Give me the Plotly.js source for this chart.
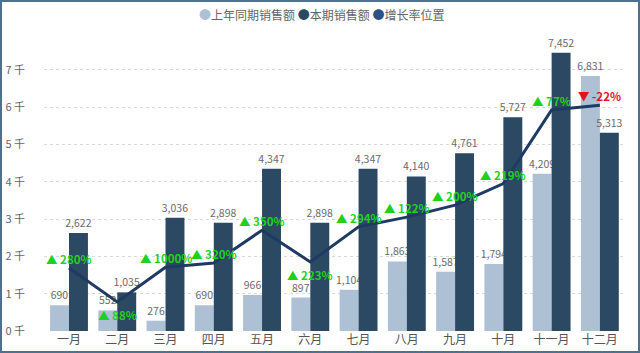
<!DOCTYPE html>
<html>
<head>
<meta charset="utf-8">
<script src="https://cdn.plot.ly/plotly-3.0.1.min.js"></script>
<style>
  html, body { margin: 0; padding: 0; background: #fff; }
  #chart { width: 640px; height: 353px; box-sizing: border-box; border: 2px solid #4d7191; }
</style>
</head>
<body>
<div id="chart"></div>
<script>
const months = ['一月','二月','三月','四月','五月','六月','七月','八月','九月','十月','十一月','十二月'];
const lastYear = [690, 552, 276, 690, 966, 897, 1104, 1863, 1587, 1794, 4209, 6831];
const thisYear = [2622, 1035, 3036, 2898, 4347, 2898, 4347, 4140, 4761, 5727, 7452, 5313];
const growthPos = [1690, 780, 1710, 1820, 2700, 1850, 2790, 3050, 3370, 3950, 5920, 6050];
const growthText = ['▲ 280%','▲ 88%','▲ 1000%','▲ 320%','▲ 350%','▲ 223%','▲ 294%','▲ 122%','▲ 200%','▲ 219%','▲ 77%','▼ -22%'];
const growthUp = [true, true, true, true, true, true, true, true, true, true, true, false];
const labelBelow = [false, true, false, false, false, true, false, false, false, false, false, false];
const seriesNames = ['上年同期销售额', '本期销售额', '增长率位置'];
const yTickVals = [0, 1000, 2000, 3000, 4000, 5000, 6000, 7000];
const yTickText = ['0 千','1 千','2 千','3 千','4 千','5 千','6 千','7 千'];

const cLight = '#adc0d4';
const cDark = '#2c4964';
const cLine = '#1f3a63';
const cLegLine = '#2b5087';
const font = '"Noto Sans CJK SC", "Noto Sans", sans-serif';

const traces = [
  {
    type: 'bar', x: months, y: lastYear, name: seriesNames[0],
    marker: { color: cLight }, texttemplate: '%{y:,}', textposition: 'outside', constraintext: 'none',
    textfont: { color: '#6b6b6b', size: 10.5, family: font }, cliponaxis: false, hoverinfo: 'skip'
  },
  {
    type: 'bar', x: months, y: thisYear, name: seriesNames[1],
    marker: { color: cDark }, texttemplate: '%{y:,}', textposition: 'outside', constraintext: 'none',
    textfont: { color: '#6b6b6b', size: 10.5, family: font }, cliponaxis: false, hoverinfo: 'skip'
  },
  {
    type: 'scatter', mode: 'lines', x: months, y: growthPos, name: seriesNames[2],
    line: { color: cLine, width: 3 }, cliponaxis: false, hoverinfo: 'skip'
  }
];

const growthAnnotations = months.map((m, i) => ({
  x: m, y: growthPos[i], xref: 'x', yref: 'y',
  text: '<b>' + growthText[i] + '</b>', showarrow: false,
  yshift: labelBelow[i] ? -13 : 9,
  font: { size: 11.5, color: growthUp[i] ? '#1fd11f' : '#e0141e', family: font }
}));

const legendText = [cLight, cDark, cLegLine].map((c, i) =>
  '<span style="color:' + c + '">●</span>' + seriesNames[i]).join(' ');

const legendAnnotation = {
  xref: 'paper', yref: 'paper', x: 0.478, y: 1.086, xanchor: 'center', yanchor: 'middle',
  showarrow: false, text: legendText, font: { size: 12, color: '#666', family: font }
};

const layout = {
  width: 636, height: 349,
  margin: { l: 42, r: 14, t: 38, b: 20 },
  paper_bgcolor: '#ffffff', plot_bgcolor: '#ffffff',
  font: { family: font, color: '#666' },
  barmode: 'group', bargap: 0.215, bargroupgap: 0,
  showlegend: false,
  annotations: growthAnnotations.concat([legendAnnotation]),
  xaxis: {
    type: 'category', showgrid: false, zeroline: false, showline: false, ticks: '',
    tickfont: { size: 12, color: '#555', family: font }
  },
  yaxis: {
    range: [0, 7795], tickvals: yTickVals, ticktext: yTickText,
    showgrid: true, gridcolor: '#d9d9d9', griddash: 'dot', gridwidth: 1,
    zeroline: false, showline: false, ticks: '', ticklabelstandoff: 18,
    tickfont: { size: 11, color: '#666', family: font }
  }
};

Plotly.newPlot('chart', traces, layout, { staticPlot: true, displayModeBar: false });
</script>
</body>
</html>
